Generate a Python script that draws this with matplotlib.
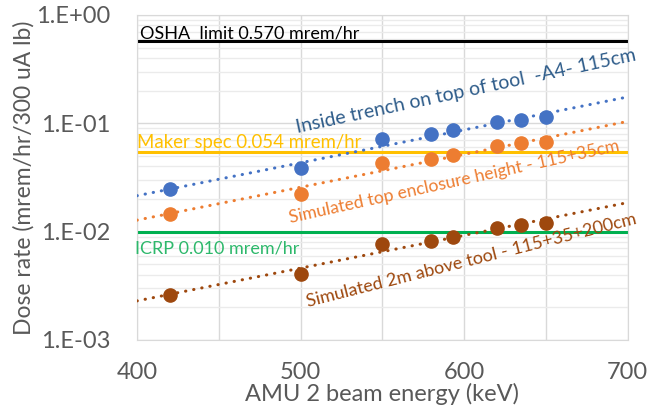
import numpy as np
import matplotlib.pyplot as plt

energy = [420, 500, 550, 580, 593, 620, 635, 650]
trench = [0.0245, 0.0383, 0.0711, 0.079, 0.086, 0.102, 0.107, 0.114]
enclosure = [0.0147, 0.0225, 0.0426, 0.0464, 0.0506, 0.0613, 0.0653, 0.0667]
above = [0.00261, 0.00408, 0.00774, 0.00826, 0.0090, 0.0109, 0.0116, 0.0119]

osha = 0.570
maker = 0.054
icrp = 0.010

plt.rcParams['font.family'] = ['Lato', 'DejaVu Sans']

fig = plt.figure(figsize=(6.5, 4.12), dpi=100)
ax = fig.add_axes([0.2108, 0.1748, 0.755, 0.7888])

grey = '#595959'
xfit = np.linspace(400, 700, 50)

series = [
    (trench, '#4472C4'),
    (enclosure, '#ED7D31'),
    (above, '#9E480E'),
]
for vals, col in series:
    # exponential trendline, as excel draws it
    k, b = np.polyfit(energy, np.log(vals), 1)
    ax.plot(xfit, np.exp(b + k * xfit), color=col, lw=2.2, ls=(0, (0.1, 2.6)),
            dash_capstyle='round', zorder=3)
    ax.plot(energy, vals, 'o', color=col, ms=9.5, zorder=4)

ax.axhline(osha, color='black', lw=2.2, zorder=2)
ax.axhline(maker, color='#FFC000', lw=2.2, zorder=2)
ax.axhline(icrp, color='#00B050', lw=2.2, zorder=2)

ax.text(402, 0.612, 'OSHA  limit 0.570 mrem/hr', fontsize=13, color='black')
ax.text(400, 0.0587, 'Maker spec 0.054 mrem/hr', fontsize=13.4, color='#FFC000')
ax.text(398.8, 0.00625, 'ICRP 0.010 mrem/hr', fontsize=13, color='#2DB86B', clip_on=False)

ax.text(498, 0.082, 'Inside trench on top of tool  -A4- 115cm', fontsize=14,
        color='#2E5C8A', rotation=12.1, rotation_mode='anchor', clip_on=False)
ax.text(493.5, 0.0119, 'Simulated top enclosure height - 115+35cm', fontsize=12.6,
        color='#ED7D31', rotation=12.4, rotation_mode='anchor', clip_on=False)
ax.text(504.5, 0.00202, 'Simulated 2m above tool - 115+35+200cm', fontsize=13,
        color='#9E480E', rotation=14.2, rotation_mode='anchor', clip_on=False)

ax.set_yscale('log')
ax.set_ylim(1e-3, 1)
ax.set_xlim(400, 700)
ax.set_xticks([400, 500, 600, 700])
ax.set_xticks([450, 550, 650], minor=True)
ax.set_yticks([1e-3, 1e-2, 1e-1, 1])
ax.set_yticklabels(['1.E-03', '1.E-02', '1.E-01', '1.E+00'])
ax.tick_params(axis='both', which='both', length=0, labelsize=17, colors=grey)
ax.tick_params(axis='y', pad=19)
ax.tick_params(axis='x', pad=16)
ax.grid(True, which='major', color='#D9D9D9', lw=1)
ax.grid(True, which='minor', axis='x', color='#D9D9D9', lw=1)
ax.grid(True, which='minor', axis='y', color='#EBEBEB', lw=1)
ax.set_axisbelow(True)
for s in ax.spines.values():
    s.set_color('#D9D9D9')

ax.set_xlabel('AMU 2 beam energy (keV)', fontsize=17, color=grey, labelpad=0)
ax.set_ylabel('Dose rate (mrem/hr/300 uA lb)', fontsize=16.5, color=grey, labelpad=1.5)

fig.savefig('out.png', dpi=100)
